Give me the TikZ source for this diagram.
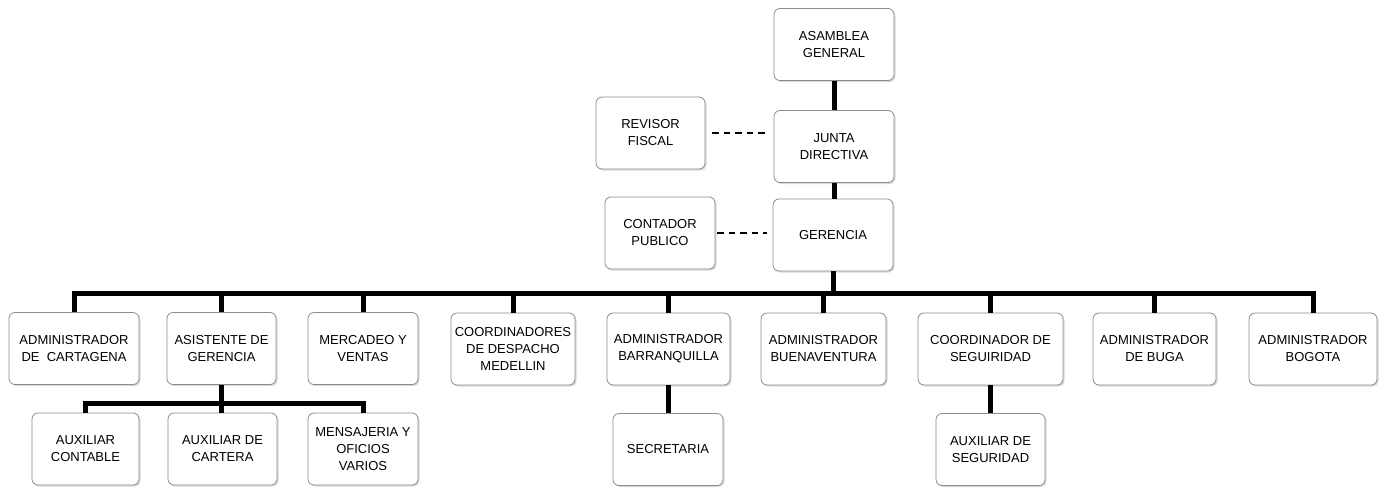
\documentclass[tikz,border=0pt]{standalone}
\usepackage{fontspec}
\setmainfont{Liberation Sans}
\usepackage{xcolor}
\usetikzlibrary{shadows}

\definecolor{boxline}{RGB}{140,140,140}

\tikzset{
  orgbox/.style={draw=boxline, line width=0.8pt, rounded corners=6pt, fill=white,
    align=center, minimum height=72pt, inner sep=2pt,
    font=\fontsize{13}{17}\selectfont,
    drop shadow={opacity=0.3, shadow xshift=1.5pt, shadow yshift=-1.5pt}},
  trunk/.style={line width=5pt, line join=miter},
  advice/.style={line width=1.2pt, dash pattern=on 6.5pt off 5pt}
}

\begin{document}
\begin{tikzpicture}[x=1pt,y=1pt,yscale=-1]
\useasboundingbox (0,0) rectangle (1389,488);

%Boxes: top of the chart
\node[orgbox, minimum width=120pt] (asam) at (834,44.5) {ASAMBLEA\\GENERAL};
\node[orgbox, minimum width=120pt] (junta) at (834,146.5) {JUNTA\\DIRECTIVA};
\node[orgbox, minimum width=120pt] (ger) at (833,235) {GERENCIA};
\node[orgbox, minimum width=109pt] (rev) at (650.5,133) {REVISOR\\FISCAL};
\node[orgbox, minimum width=110pt] (cont) at (660,233) {CONTADOR\\PUBLICO};

%Boxes: second row
\node[orgbox, minimum width=130pt] (cart) at (74,348.5) {ADMINISTRADOR\\DE\ \ CARTAGENA};
\node[orgbox, minimum width=109pt] (asis) at (221.5,348.5) {ASISTENTE DE\\GERENCIA};
\node[orgbox, minimum width=110pt] (merc) at (363,348.5) {MERCADEO Y\\VENTAS};
\node[orgbox, minimum width=124pt] (coord) at (513,349) {COORDINADORES\\DE DESPACHO\\MEDELLIN};
\node[orgbox, minimum width=123pt] (barr) at (668.5,349) {ADMINISTRADOR\\BARRANQUILLA};
\node[orgbox, minimum width=125pt] (buen) at (823.5,349) {ADMINISTRADOR\\BUENAVENTURA};
\node[orgbox, minimum width=145pt] (cseg) at (990.5,349) {COORDINADOR DE\\SEGUIRIDAD};
\node[orgbox, minimum width=123pt] (buga) at (1154.5,349) {ADMINISTRADOR\\DE BUGA};
\node[orgbox, minimum width=128pt] (bog) at (1313,349) {ADMINISTRADOR\\BOGOTA};

%Boxes: third row
\node[orgbox, minimum width=107pt] (auxc) at (85.5,449) {AUXILIAR\\CONTABLE};
\node[orgbox, minimum width=109pt] (auxca) at (222.5,449) {AUXILIAR DE\\CARTERA};
\node[orgbox, minimum width=110pt] (mens) at (363,449) {MENSAJERIA Y\\OFICIOS\\VARIOS};
\node[orgbox, minimum width=110pt] (sec) at (668,449.5) {SECRETARIA};
\node[orgbox, minimum width=109pt] (auxs) at (990.5,449.5) {AUXILIAR DE\\SEGURIDAD};

%Lines: main trunk
\coordinate (bus) at (0,293);
\coordinate (subbus) at (0,403);
\draw[trunk] (asam.south) -- (asam.south |- junta.north);
\draw[trunk] (junta.south) -- (junta.south |- ger.north);
\draw[trunk] (ger.south) -- (ger.south |- bus);
\draw[trunk] (cart.north) -- (cart.north |- bus) -- (bog.north |- bus) -- (bog.north);
\foreach \n in {asis,merc,coord,barr,buen,cseg,buga}
  \draw[trunk] (\n.north) -- (\n.north |- bus);

%Lines: lower branches
\draw[trunk] (auxc.north) -- (auxc.north |- subbus) -- (mens.north |- subbus) -- (mens.north);
\draw[trunk] (asis.south) -- (asis.south |- auxca.north);
\draw[trunk] (barr.south) -- (barr.south |- sec.north);
\draw[trunk] (cseg.south) -- (cseg.south |- auxs.north);

%Lines: dashed staff links
\draw[advice, shorten <=7pt, shorten >=7pt] (rev.east) -- (rev.east -| junta.west);
\draw[advice, shorten <=2pt, shorten >=6pt] (cont.east) -- (cont.east -| ger.west);
\end{tikzpicture}
\end{document}
